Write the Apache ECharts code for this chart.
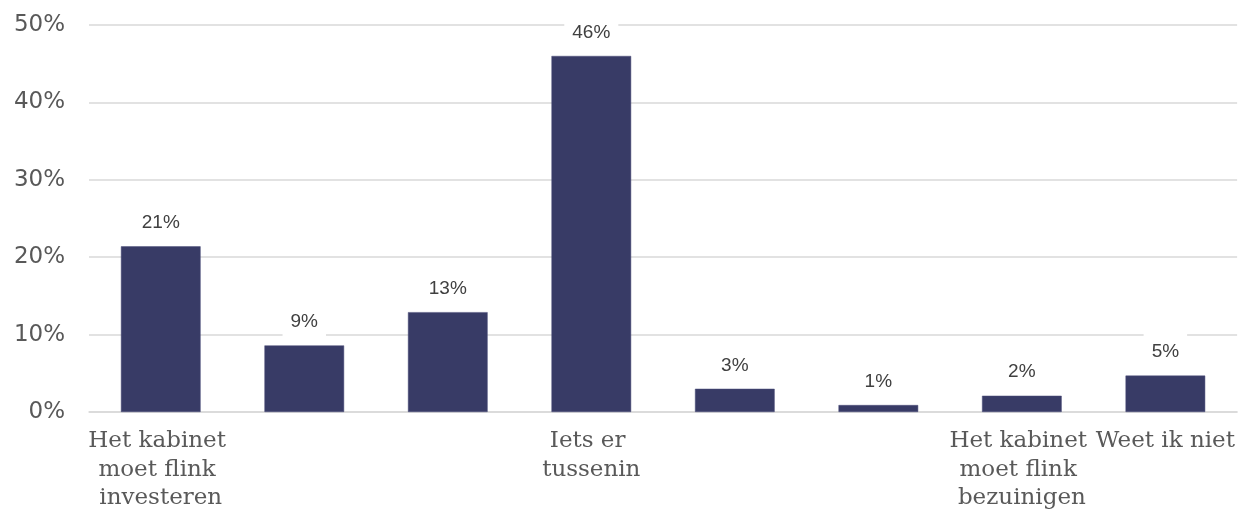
<!DOCTYPE html>
<html>
<head>
<meta charset="utf-8">
<script src="https://cdn.jsdelivr.net/npm/echarts@6/dist/echarts.min.js"></script>
<style>
html,body{margin:0;padding:0;background:#fff;overflow:hidden;}
#chart{width:1243px;height:517px;}
</style>
</head>
<body>
<div id="chart"></div>
<script>
const categories = [
  'Het kabinet moet flink investeren',
  '',
  '',
  'Iets er tussenin',
  '',
  '',
  'Het kabinet moet flink bezuinigen',
  'Weet ik niet'
];
const values = [21.4, 8.6, 12.9, 46.0, 3.0, 0.9, 2.1, 4.7];
const yTicks = [0, 10, 20, 30, 40, 50];

const chart = echarts.init(document.getElementById('chart'));
chart.setOption({
  animation: false,
  grid: { left: 89, right: 0, top: 25, bottom: 105, containLabel: false },
  xAxis: {
    type: 'category',
    data: categories,
    axisLine: { show: true, lineStyle: { color: '#d9d9d9', width: 1.5 } },
    axisTick: { show: false },
    axisLabel: {
      interval: 0,
      width: 150,
      overflow: 'break',
      align: 'center',
      margin: 15,
      fontFamily: 'DejaVu Serif',
      fontSize: 23,
      lineHeight: 28.5,
      color: '#595959'
    }
  },
  yAxis: {
    type: 'value',
    min: yTicks[0],
    max: yTicks[yTicks.length - 1],
    interval: 10,
    axisLine: { show: false },
    axisTick: { show: false },
    splitLine: { lineStyle: { color: '#d9d9d9', width: 1.5 } },
    axisLabel: {
      margin: 24,
      fontFamily: 'DejaVu Sans',
      fontSize: 23,
      color: '#595959',
      formatter: v => v + '%'
    }
  },
  series: [{
    type: 'bar',
    data: values,
    barWidth: '55.5%',
    itemStyle: { color: '#383b66', borderColor: '#4a4d78', borderWidth: 0.5 },
    label: {
      show: true,
      position: 'top',
      distance: 5,
      formatter: p => Math.round(p.value) + '%',
      fontFamily: 'Liberation Sans',
      fontSize: 19,
      color: '#404040',
      backgroundColor: '#ffffff',
      padding: [9, 8]
    }
  }]
});
</script>
</body>
</html>
